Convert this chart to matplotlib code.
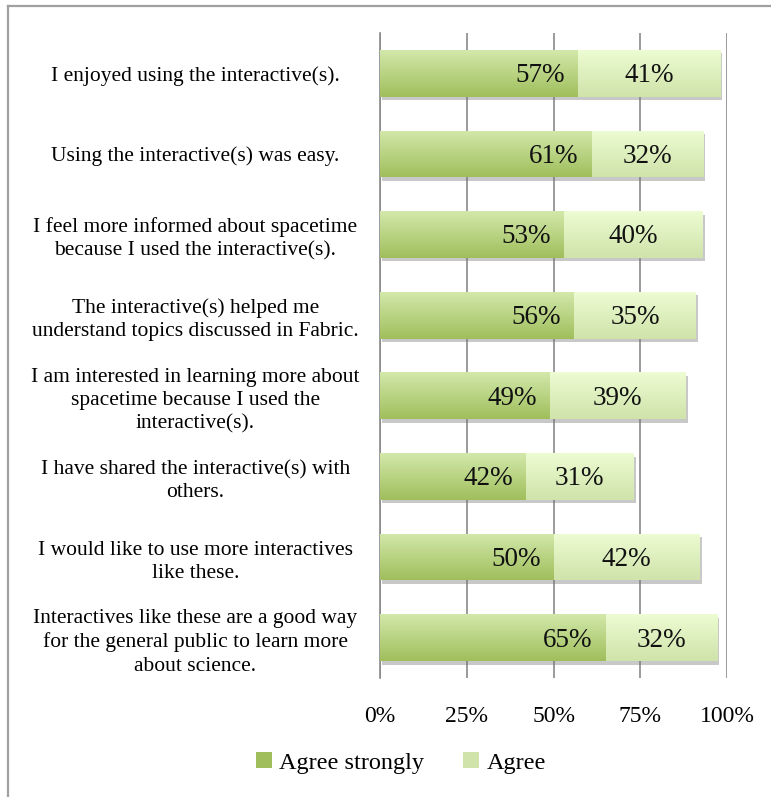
import numpy as np
import matplotlib
matplotlib.use("Agg")
import matplotlib.pyplot as plt
import matplotlib.patheffects as pe
from matplotlib.lines import Line2D
from matplotlib.patches import Rectangle

plt.rcParams['font.family'] = ['Liberation Serif', 'DejaVu Serif']

# Survey statements, top to bottom
statements = [
    "I enjoyed using the interactive(s).",
    "Using the interactive(s) was easy.",
    "I feel more informed about spacetime\nbecause I used the interactive(s).",
    "The interactive(s) helped me\nunderstand topics discussed in Fabric.",
    "I am interested in learning more about\nspacetime because I used the\ninteractive(s).",
    "I have shared the interactive(s) with\nothers.",
    "I would like to use more interactives\nlike these.",
    "Interactives like these are a good way\nfor the general public to learn more\nabout science.",
]
agree_strongly = [57, 61, 53, 56, 49, 42, 50, 65]
agree = [41, 32, 40, 35, 39, 31, 42, 32]
xticks = [0, 25, 50, 75, 100]
series_names = ["Agree strongly", "Agree"]

# gradient colours (top, bottom) for each series
grad_dark = ("#d2e8aa", "#a0bf5c")
grad_light = ("#edfcd2", "#cfe3aa")

fig = plt.figure(figsize=(7.71, 7.97), dpi=100)
ax = fig.add_axes([0.4929, 0.1493, 0.4503, 0.8093])

y = np.arange(len(statements))
h = 0.58
shadow = [pe.SimplePatchShadow(offset=(1.5, -2.5), shadow_rgbFace='#777777', alpha=0.4), pe.Normal()]
b1 = ax.barh(y, agree_strongly, height=h, color=grad_dark[1], zorder=3,
             path_effects=shadow)
b2 = ax.barh(y, agree, left=agree_strongly, height=h, color=grad_light[1],
             zorder=3, path_effects=shadow)


def gradient_fill(bars, cols):
    c0 = np.array(matplotlib.colors.to_rgb(cols[0]))
    c1 = np.array(matplotlib.colors.to_rgb(cols[1]))
    t = np.linspace(0, 1, 64)[:, None]
    img = (c0 * (1 - t) + c1 * t)[:, None, :]
    for bar in bars:
        x0, y0 = bar.get_x(), bar.get_y()
        w, hh = bar.get_width(), bar.get_height()
        # y axis runs downward: row 0 sits at the top edge of the bar
        im = ax.imshow(img, extent=(x0, x0 + w, y0 + hh, y0), origin='upper',
                       aspect='auto', zorder=4, interpolation='bilinear')
        im.set_clip_path(bar)


ax.set_xlim(0, 100)
ax.set_ylim(len(statements) - 0.5, -0.5)
gradient_fill(b1, grad_dark)
gradient_fill(b2, grad_light)

for i in range(len(statements)):
    a, b = agree_strongly[i], agree[i]
    ax.text(a - 3.8, y[i] + 0.03, f"{a}%", ha='right', va='center', fontsize=19.5,
            color='#111111', zorder=5)
    ax.text(a + b / 2, y[i] + 0.03, f"{b}%", ha='center', va='center', fontsize=19.5,
            color='#111111', zorder=5)

ax.set_xticks(xticks)
ax.set_xticklabels([f"{v}%" for v in xticks], fontsize=17)
ax.set_yticks(y)
ax.set_yticklabels(statements, fontsize=15.5, ha='center', linespacing=1.3)
ax.tick_params(axis='y', length=0, pad=133)
ax.tick_params(axis='x', length=0, pad=20)
ax.grid(axis='x', color='#8a8a8a', linewidth=1.2, zorder=0)
ax.set_axisbelow(True)
for s in ['top', 'right', 'bottom']:
    ax.spines[s].set_visible(False)
ax.spines['left'].set_color('#8a8a8a')
ax.spines['left'].set_linewidth(1.2)

# legend with small square keys
handles = [Rectangle((0, 0), 1, 1, facecolor=grad_dark[1]),
           Rectangle((0, 0), 1, 1, facecolor=grad_light[1])]
fig.legend(handles, series_names, loc='center', bbox_to_anchor=(0.52, 0.043),
           ncol=2, frameon=False, fontsize=17.5, handlelength=0.65,
           handleheight=0.65, handletextpad=0.3, columnspacing=1.6)

# outer chart border (top and left edges)
fig.add_artist(Line2D([0.0104, 1.0], [0.9925, 0.9925], color='#a0a0a0', lw=1.6))
fig.add_artist(Line2D([0.0104, 0.0104], [0.0, 0.9925], color='#a0a0a0', lw=1.6))

fig.savefig("out.png", dpi=100)
